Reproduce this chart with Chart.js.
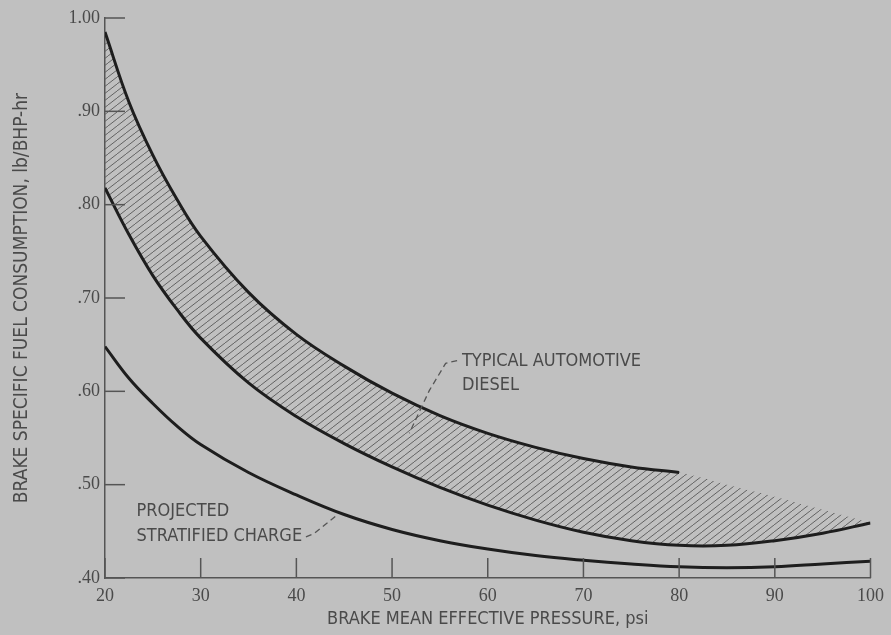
<!DOCTYPE html>
<html>
<head>
<meta charset="utf-8">
<script src="https://cdn.jsdelivr.net/npm/chart.js@4.4.0/dist/chart.umd.min.js"></script>
<style>
  html, body { margin: 0; padding: 0; background: #c0c0c0; }
  canvas { display: block; }
</style>
</head>
<body>
<canvas id="bsfc" width="891" height="635"></canvas>
<script>
// brake mean effective pressure, psi
const pressure = [20, 22.5, 25, 27.5, 30, 35, 40, 45, 50, 55, 60, 65, 70, 75, 80, 85, 90, 95, 100];
// lb/BHP-hr
const dieselUpper = [0.985, 0.910, 0.853, 0.806, 0.766, 0.706, 0.661, 0.627, 0.598, 0.574, 0.555, 0.540, 0.528, 0.519, 0.513, null, null, null, null];
const dieselLower = [0.818, 0.768, 0.724, 0.688, 0.657, 0.609, 0.573, 0.544, 0.519, 0.497, 0.478, 0.462, 0.449, 0.440, 0.435, 0.435, 0.440, 0.448, 0.459];
const hatchTop = [0.985, 0.910, 0.853, 0.806, 0.766, 0.706, 0.661, 0.627, 0.598, 0.574, 0.555, 0.540, 0.528, 0.519, 0.513, 0.500, 0.487, 0.473, 0.459];
const stratified = [0.648, 0.614, 0.587, 0.563, 0.543, 0.513, 0.489, 0.468, 0.452, 0.440, 0.431, 0.424, 0.419, 0.415, 0.412, 0.411, 0.412, 0.415, 0.418];

const xTickValues = [20, 30, 40, 50, 60, 70, 80, 90, 100];
const yTickValues = [0.40, 0.50, 0.60, 0.70, 0.80, 0.90, 1.00];
const yTickLabels = ['.40', '.50', '.60', '.70', '.80', '.90', '1.00'];

const notes = [
    { text: 'TYPICAL AUTOMOTIVE', x: 57.3, y: 0.632 },
    { text: 'DIESEL', x: 57.3, y: 0.606 },
    { text: 'PROJECTED', x: 23.3, y: 0.471 },
    { text: 'STRATIFIED CHARGE', x: 23.3, y: 0.445 }
];
const leaders = [
    [[56.8, 0.633], [55.6, 0.630], [53.9, 0.601], [52.8, 0.577], [51.8, 0.555]],
    [[41.0, 0.444], [41.9, 0.448], [44.2, 0.467]]
];

const textFont = "'Liberation Sans Narrow', 'DejaVu Sans Condensed', 'Roboto Condensed', sans-serif";
const textColor = '#4a4a4a';

function toPoints(arr) {
    return pressure.map((p, i) => ({ x: p, y: arr[i] }));
}

// diagonal hatch pattern
function makeHatch() {
    const w = 9, h = 7;
    const c = document.createElement('canvas');
    c.width = w; c.height = h;
    const g = c.getContext('2d');
    g.strokeStyle = '#626262';
    g.lineWidth = 1;
    for (const dx of [-w, 0, w]) {
        g.beginPath();
        g.moveTo(dx, h);
        g.lineTo(dx + w, 0);
        g.stroke();
    }
    return g.createPattern(c, 'repeat');
}

const decorPlugin = {
    id: 'decor',
    beforeDraw(chart) {
        const ctx = chart.ctx;
        ctx.save();
        ctx.fillStyle = '#c0c0c0';
        ctx.fillRect(0, 0, chart.width, chart.height);
        ctx.restore();
    },
    afterDraw(chart) {
        const ctx = chart.ctx;
        const xs = chart.scales.x, ys = chart.scales.y;
        const area = chart.chartArea;
        ctx.save();
        // inward tick marks
        ctx.strokeStyle = '#555';
        ctx.lineWidth = 1.5;
        yTickValues.forEach(v => {
            const py = ys.getPixelForValue(v);
            ctx.beginPath();
            ctx.moveTo(area.left, py);
            ctx.lineTo(area.left + 20, py);
            ctx.stroke();
        });
        xTickValues.forEach(v => {
            const px = xs.getPixelForValue(v);
            ctx.beginPath();
            ctx.moveTo(px, area.bottom);
            ctx.lineTo(px, area.bottom - 20);
            ctx.stroke();
        });
        // leader lines
        ctx.strokeStyle = '#555';
        ctx.lineWidth = 1.3;
        ctx.setLineDash([6, 4]);
        leaders.forEach(pts => {
            ctx.beginPath();
            pts.forEach((p, i) => {
                const px = xs.getPixelForValue(p[0]);
                const py = ys.getPixelForValue(p[1]);
                if (i === 0) ctx.moveTo(px, py); else ctx.lineTo(px, py);
            });
            ctx.stroke();
        });
        ctx.setLineDash([]);
        // annotation text
        ctx.fillStyle = textColor;
        ctx.font = '18px ' + textFont;
        ctx.textAlign = 'left';
        ctx.textBaseline = 'middle';
        notes.forEach(n => {
            ctx.fillText(n.text, xs.getPixelForValue(n.x), ys.getPixelForValue(n.y));
        });
        // y axis title
        ctx.font = '19px ' + textFont;
        ctx.translate(22, 298);
        ctx.rotate(-Math.PI / 2);
        ctx.textAlign = 'center';
        ctx.fillText('BRAKE SPECIFIC FUEL CONSUMPTION, lb/BHP-hr', 0, 0);
        ctx.restore();
    }
};

const lineStyle = {
    borderColor: '#1e1e1e',
    borderWidth: 3,
    pointRadius: 0,
    pointHoverRadius: 0,
    tension: 0.4,
    fill: false
};

const ctx = document.getElementById('bsfc').getContext('2d');

const chartData = {
    datasets: [
        { label: 'Typical automotive diesel (upper)', data: toPoints(dieselUpper), ...lineStyle },
        { label: 'Typical automotive diesel (lower)', data: toPoints(dieselLower), ...lineStyle },
        { label: 'Projected stratified charge', data: toPoints(stratified), ...lineStyle },
        {
            label: 'Diesel band',
            data: toPoints(hatchTop),
            borderWidth: 0,
            borderColor: 'rgba(0,0,0,0)',
            pointRadius: 0,
            pointHoverRadius: 0,
            tension: 0.4,
            backgroundColor: makeHatch(),
            fill: 1
        }
    ]
};

const chartConfig = {
    type: 'line',
    data: chartData,
    options: {
        responsive: false,
        animation: false,
        devicePixelRatio: 1,
        layout: { padding: { top: 18, right: 18, left: 0, bottom: 0 } },
        plugins: {
            legend: { display: false },
            tooltip: { enabled: false }
        },
        scales: {
            x: {
                type: 'linear',
                min: 20,
                max: 100,
                afterFit: s => { s.height = 57; },
                afterBuildTicks: s => { s.ticks = xTickValues.map(v => ({ value: v })); },
                grid: { display: false, drawTicks: false },
                border: { display: true, color: '#555', width: 1.5 },
                ticks: {
                    padding: 7,
                    maxRotation: 0,
                    color: textColor,
                    font: { family: 'Liberation Serif', size: 18 }
                },
                title: {
                    display: true,
                    text: 'BRAKE MEAN EFFECTIVE PRESSURE, psi',
                    color: textColor,
                    font: { family: textFont, size: 18 },
                    padding: { top: 0, bottom: 5 }
                }
            },
            y: {
                type: 'linear',
                min: 0.4,
                max: 1.0,
                afterFit: s => { s.width = 105; },
                afterBuildTicks: s => { s.ticks = yTickValues.map(v => ({ value: v })); },
                grid: { display: false, drawTicks: false },
                border: { display: true, color: '#555', width: 1.5 },
                ticks: {
                    padding: 5,
                    color: textColor,
                    font: { family: 'Liberation Serif', size: 18 },
                    callback: value => {
                        const i = yTickValues.findIndex(t => Math.abs(t - value) < 1e-6);
                        return i >= 0 ? yTickLabels[i] : '';
                    }
                }
            }
        }
    },
    plugins: [decorPlugin]
};

new Chart(ctx, chartConfig);
</script>
</body>
</html>
